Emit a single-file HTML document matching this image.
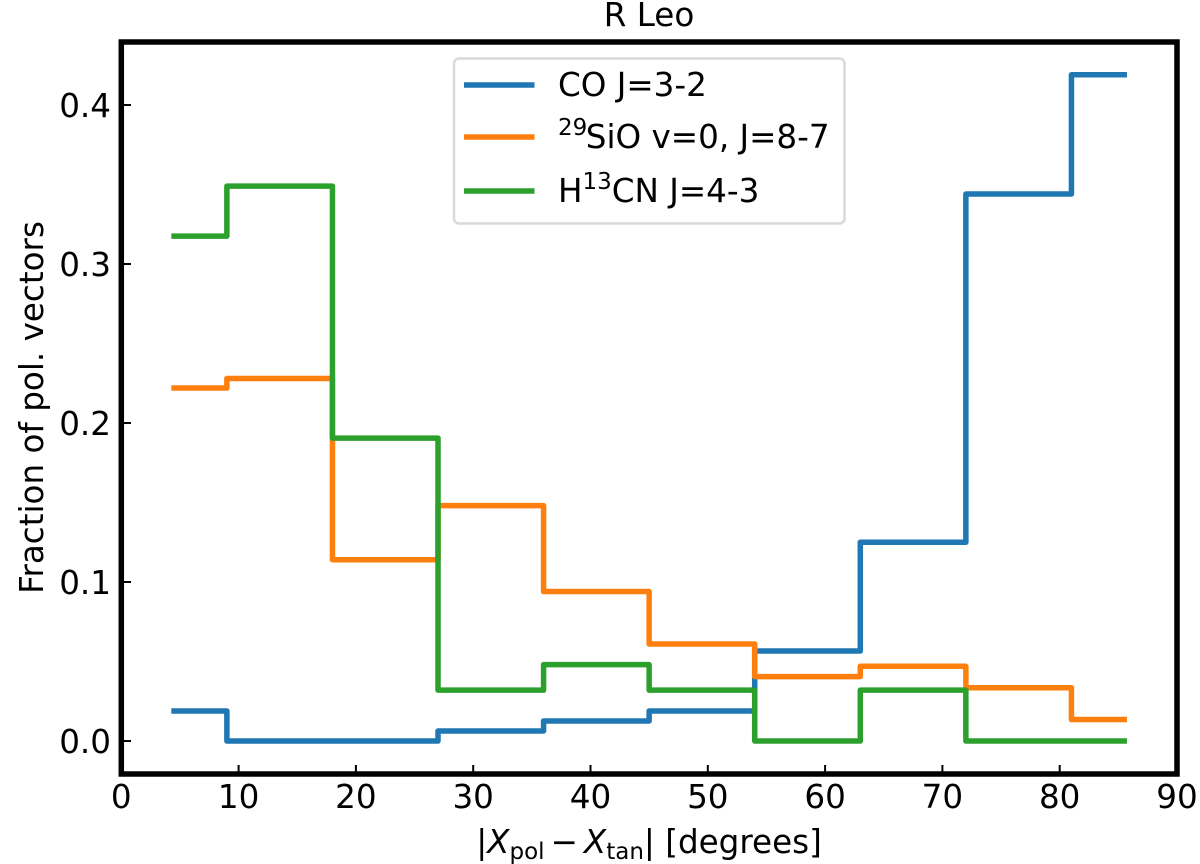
<!DOCTYPE html>
<html lang="en">
<head>
<meta charset="utf-8">
<title>R Leo</title>
<style>
html,body{margin:0;padding:0;background:#fff;width:1200px;height:864px;overflow:hidden}
svg{display:block}
text{font-family:"DejaVu Sans","Liberation Sans",sans-serif;fill:#000}
</style>
</head>
<body>
<svg id="chart" xmlns="http://www.w3.org/2000/svg" width="1200" height="864" viewBox="0 0 1200 864">
  <rect width="1200" height="864" fill="#fff"/>
  <g id="series-layer"></g>
  <g id="tick-layer"></g>
  <rect x="121.3" y="42" width="1055.7" height="732" fill="none" stroke="#000" stroke-width="5.5"/>
  <text x="649" y="26" font-size="32.6" text-anchor="middle">R Leo</text>
  <text x="649" y="853" font-size="32.6" text-anchor="middle">|<tspan font-style="italic">X</tspan><tspan font-size="23" dy="6">pol</tspan><tspan dy="-6" dx="6">−</tspan><tspan font-style="italic" dx="6">X</tspan><tspan font-size="23" dy="6">tan</tspan><tspan dy="-6">| [degrees]</tspan></text>
  <text transform="translate(43 407.5) rotate(-90)" font-size="32.6" text-anchor="middle">Fraction of pol. vectors</text>
  <g>
    <rect x="454" y="58.5" width="390.5" height="165" rx="5" ry="5" fill="#fff" fill-opacity="0.9" stroke="#d9d9d9" stroke-width="2.5"/>
    <g>
      <line x1="464" x2="534.5" y1="85" y2="85" stroke="#1f77b4" stroke-width="5.5"/>
      <text x="558" y="96" font-size="32.6">CO J=3-2</text>
    </g>
    <g>
      <line x1="464" x2="534.5" y1="137" y2="137" stroke="#ff7f0e" stroke-width="5.5"/>
      <text x="558" y="148" font-size="32.6"><tspan font-size="23" dy="-13">29</tspan><tspan dy="13" dx="-1.5">SiO v=0, J=8-7</tspan></text>
    </g>
    <g>
      <line x1="464" x2="534.5" y1="191" y2="191" stroke="#2ca02c" stroke-width="5.5"/>
      <text x="558" y="202" font-size="32.6">H<tspan font-size="23" dy="-13">13</tspan><tspan dy="13">CN J=4-3</tspan></text>
    </g>
  </g>
</svg>
<script>
const binCenters = [4.5, 13.5, 22.5, 31.5, 40.5, 49.5, 58.5, 67.5, 76.5, 85.5];
const coValues = [0.0189, 0, 0, 0.0063, 0.0126, 0.0189, 0.0566, 0.125, 0.344, 0.419];
const sioValues = [0.222, 0.228, 0.114, 0.148, 0.094, 0.061, 0.0405, 0.047, 0.0335, 0.0135];
const hcnValues = [0.3175, 0.349, 0.1905, 0.032, 0.048, 0.032, 0, 0.032, 0, 0];
const xTicks = [0, 10, 20, 30, 40, 50, 60, 70, 80, 90];
const yTicks = [0.0, 0.1, 0.2, 0.3, 0.4];

const NS = 'http://www.w3.org/2000/svg';
function xScale(v) { return 121.3 + v * (1177 - 121.3) / 90; }
function yScale(v) { return 741 - v * 1590; }

function stepPath(xs, ys) {
  let d = 'M' + xScale(xs[0]) + ' ' + yScale(ys[0]);
  for (let i = 1; i < xs.length; i++) {
    const mid = (xs[i - 1] + xs[i]) / 2;
    d += 'L' + xScale(mid) + ' ' + yScale(ys[i - 1]);
    d += 'L' + xScale(mid) + ' ' + yScale(ys[i]);
  }
  d += 'L' + xScale(xs[xs.length - 1]) + ' ' + yScale(ys[ys.length - 1]);
  return d;
}

const seriesLayer = document.getElementById('series-layer');
const tickLayer = document.getElementById('tick-layer');

const coLine = document.createElementNS(NS, 'path');


coLine.setAttribute('d', stepPath(binCenters, coValues));
coLine.setAttribute('stroke', '#1f77b4');
seriesLayer.appendChild(coLine);

const sioLine = document.createElementNS(NS, 'path');


sioLine.setAttribute('d', stepPath(binCenters, sioValues));
sioLine.setAttribute('stroke', '#ff7f0e');
seriesLayer.appendChild(sioLine);

const hcnLine = document.createElementNS(NS, 'path');


hcnLine.setAttribute('d', stepPath(binCenters, hcnValues));
hcnLine.setAttribute('stroke', '#2ca02c');
seriesLayer.appendChild(hcnLine);

[coLine, sioLine, hcnLine].forEach(function (p) {
  p.setAttribute('fill', 'none');
  p.setAttribute('stroke-width', '5.5');
  p.setAttribute('stroke-linejoin', 'round');
  p.setAttribute('stroke-linecap', 'square');
});

xTicks.forEach(function (t) {
  const mark = document.createElementNS(NS, 'line');
  
  
  mark.setAttribute('x1', xScale(t));
  mark.setAttribute('x2', xScale(t));
  mark.setAttribute('y1', 765);
  mark.setAttribute('y2', 774);
  mark.setAttribute('stroke', '#000');
  mark.setAttribute('stroke-width', '2');
  tickLayer.appendChild(mark);
  const label = document.createElementNS(NS, 'text');
  
  
  label.setAttribute('x', xScale(t));
  label.setAttribute('y', 808);
  label.setAttribute('font-size', '32.6');
  label.setAttribute('text-anchor', 'middle');
  label.textContent = String(t);
  tickLayer.appendChild(label);
});

yTicks.forEach(function (t) {
  const mark = document.createElementNS(NS, 'line');
  
  
  mark.setAttribute('x1', 121);
  mark.setAttribute('x2', 131);
  mark.setAttribute('y1', yScale(t));
  mark.setAttribute('y2', yScale(t));
  mark.setAttribute('stroke', '#000');
  mark.setAttribute('stroke-width', '2');
  tickLayer.appendChild(mark);
  const label = document.createElementNS(NS, 'text');
  
  
  label.setAttribute('x', 111);
  label.setAttribute('y', yScale(t) + 12);
  label.setAttribute('font-size', '32.6');
  label.setAttribute('text-anchor', 'end');
  label.textContent = t.toFixed(1);
  tickLayer.appendChild(label);
});
</script>
</body>
</html>
